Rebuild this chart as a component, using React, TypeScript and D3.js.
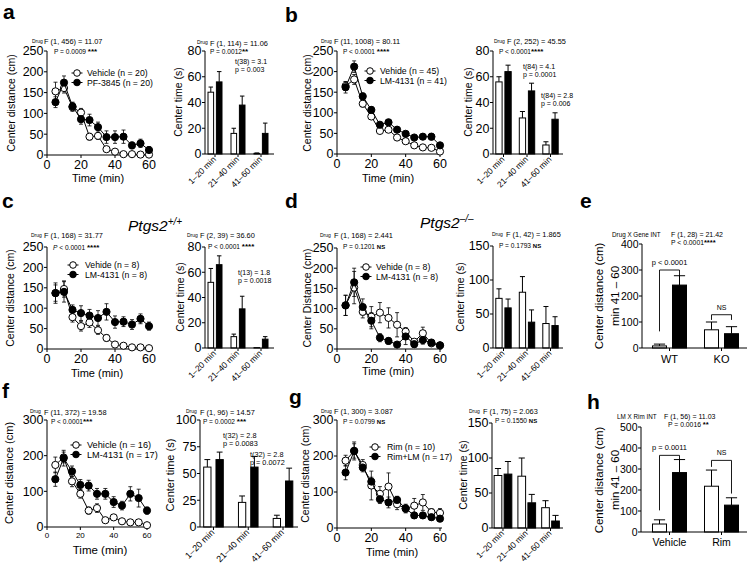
import React from 'react';
import * as d3 from 'd3';

const FONT = "'Liberation Sans', Arial, Helvetica, sans-serif";

const timePoints = [5, 10, 15, 20, 25, 30, 35, 40, 45, 50, 55, 60];
const timeTicks = [0, 20, 40, 60];
const binLabels = ['1–20 min', '21–40 min', '41–60 min'];

const yTicks250 = [0, 50, 100, 150, 200, 250];
const yTicks80 = [0, 20, 40, 60, 80];
const yTicks150 = [0, 50, 100, 150];
const yTicks300 = [0, 100, 200, 300];
const yTicks100 = [0, 25, 50, 75, 100];
const yTicks400 = [0, 100, 200, 300, 400];
const yTicks500 = [0, 100, 200, 300, 400, 500];

// panel a
const aVehicle = [153, 161, 115, 102, 44, 46, 14, 8, 2, 2, 1, 1];
const aVehicleErr = [22, 12, 10, 10, 8, 8, 5, 4, 2, 2, 2, 2];
const aDrug = [127, 174, 117, 86, 84, 67, 43, 43, 44, 23, 28, 12];
const aDrugErr = [13, 16, 10, 12, 14, 12, 15, 15, 16, 8, 10, 8];
const aBarVehicle = [48, 16, 0.5];
const aBarVehicleErr = [4, 4, 0.3];
const aBarDrug = [56, 38, 16];
const aBarDrugErr = [8, 7, 8];

// panel b
const bVehicle = [165, 181, 122, 91, 56, 59, 40, 31, 21, 16, 15, 6];
const bVehicleErr = [10, 12, 8, 6, 5, 5, 4, 3, 3, 3, 3, 2];
const bDrug = [162, 212, 140, 107, 71, 77, 59, 49, 40, 42, 42, 21];
const bDrugErr = [14, 14, 8, 8, 6, 6, 6, 5, 5, 6, 8, 5];
const bBarVehicle = [56, 28, 7];
const bBarVehicleErr = [4, 5, 2.5];
const bBarDrug = [64, 49, 27];
const bBarDrugErr = [5, 6, 5];

// panel c
const cVehicle = [137, 147, 78, 56, 65, 46, 27, 11, 8, 4, 4, 2];
const cVehicleErr = [20, 20, 12, 12, 12, 10, 8, 4, 3, 2, 2, 2];
const cDrug = [137, 140, 96, 88, 82, 76, 91, 66, 67, 60, 74, 56];
const cDrugErr = [25, 25, 12, 18, 15, 18, 20, 15, 12, 12, 12, 10];
const cBarVehicle = [52, 9, 0.3];
const cBarVehicleErr = [11, 2, 0];
const cBarDrug = [66, 31, 7];
const cBarDrugErr = [7, 10, 2];

// panel d
const dVehicle = [108, 152, 92, 80, 90, 77, 60, 43, 18, 39, 14, 9];
const dVehicleErr = [25, 40, 15, 25, 25, 25, 30, 10, 5, 15, 5, 4];
const dDrug = [108, 165, 104, 70, 28, 20, 11, 31, 12, 22, 16, 9];
const dDrugErr = [25, 35, 20, 20, 10, 8, 4, 20, 8, 10, 6, 4];
const dBarVehicle = [73, 82, 36];
const dBarVehicleErr = [14, 23, 25];
const dBarDrug = [59, 38, 33];
const dBarDrugErr = [13, 18, 13];

// panel e
const eGroups = ['WT', 'KO'];
const eVehicle = [8, 70];
const eVehicleErr = [7, 30];
const eDrug = [242, 55];
const eDrugErr = [36, 27];
const eBracketTop = [300, 128];
const eBracketLeftEnd = [64, 108];
const eBracketRightEnd = [268, 108];
const eBracketText = ['p < 0.0001', 'NS'];

// panel f
const fVehicle = [174, 195, 128, 93, 46, 53, 19, 27, 16, 13, 13, 5];
const fVehicleErr = [22, 15, 15, 12, 10, 12, 6, 8, 5, 4, 4, 3];
const fDrug = [134, 193, 156, 118, 116, 93, 93, 70, 60, 93, 81, 46];
const fDrugErr = [20, 22, 15, 15, 15, 15, 15, 15, 12, 20, 25, 10];
const fBarVehicle = [56, 23, 8];
const fBarVehicleErr = [7, 6, 3];
const fBarDrug = [63, 56, 43];
const fBarDrugErr = [7, 10, 12];

// panel g
const gVehicle = [187, 214, 175, 118, 95, 115, 66, 54, 62, 71, 44, 42];
const gVehicleErr = [15, 25, 15, 40, 20, 38, 15, 10, 20, 22, 10, 12];
const gDrug = [154, 214, 168, 129, 80, 71, 78, 54, 35, 35, 30, 26];
const gDrugErr = [20, 20, 12, 12, 12, 15, 10, 12, 8, 8, 8, 8];
const gBarVehicle = [75, 74, 29];
const gBarVehicleErr = [10, 26, 10];
const gBarDrug = [77, 36, 10];
const gBarDrugErr = [18, 12, 8];

// panel h
const hGroups = ['Vehicle', 'Rim'];
const hVehicle = [38, 218];
const hVehicleErr = [20, 77];
const hDrug = [283, 128];
const hDrugErr = [62, 35];
const hBracketTop = [365, 341];
const hBracketLeftEnd = [103, 310];
const hBracketRightEnd = [345, 183];
const hBracketText = ['p = 0.0011', 'NS'];

const K = '#000';

function YAxis({ x, y, ticks, size }: any) {
  const r = y.range();
  return (
    <g>
      <line x1={x} x2={x} y1={r[0]} y2={r[1]} stroke={K} strokeWidth={1} />
      {ticks.map((t: number) => (
        <g key={t}>
          <line x1={x - 3} x2={x} y1={y(t)} y2={y(t)} stroke={K} strokeWidth={1} />
          <text x={x - 3.5} y={y(t)} dy="0.35em" textAnchor="end" fontSize={size}>{t}</text>
        </g>
      ))}
    </g>
  );
}

function LinePanel({ left, right, top, bottom, yMax, yTicks, xTickSize = 12.5, yTickSize = 12.5, veh, vehErr, drug, drugErr }: any) {
  const x = d3.scaleLinear().domain([0, 60]).range([left, right]);
  const y = d3.scaleLinear().domain([0, yMax]).range([bottom, top]);
  const line = d3.line<number>().x((_, i) => x(timePoints[i])).y((d) => y(d));
  const series = [
    { vals: veh, err: vehErr, fill: '#fff', key: 'veh' },
    { vals: drug, err: drugErr, fill: '#000', key: 'drug' },
  ];
  return (
    <g>
      <YAxis x={left} y={y} ticks={yTicks} size={yTickSize} />
      <line x1={left} x2={x(60) + 2} y1={bottom} y2={bottom} stroke={K} strokeWidth={1} />
      {timeTicks.map((t) => (
        <g key={t}>
          <line x1={x(t)} x2={x(t)} y1={bottom} y2={bottom + 3} stroke={K} strokeWidth={1} />
          <text x={x(t)} y={bottom + (xTickSize > 10 ? 13.5 : 10.5)} textAnchor="middle" fontSize={xTickSize}>{t}</text>
        </g>
      ))}
      {series.map((s) => (
        <g key={s.key}>
          {s.vals.map((v: number, i: number) => {
            const cx = x(timePoints[i]);
            const hi = y(v + s.err[i]);
            const lo = y(Math.max(0, v - s.err[i]));
            return (
              <g key={i}>
                <line x1={cx} x2={cx} y1={hi} y2={lo} stroke={K} strokeWidth={0.8} />
                <line x1={cx - 2} x2={cx + 2} y1={hi} y2={hi} stroke={K} strokeWidth={0.8} />
                <line x1={cx - 2} x2={cx + 2} y1={lo} y2={lo} stroke={K} strokeWidth={0.8} />
              </g>
            );
          })}
        </g>
      ))}
      {series.map((s) => (
        <g key={s.key + 'l'}>
          <path d={line(s.vals) || ''} fill="none" stroke={K} strokeWidth={1} />
          {s.vals.map((v: number, i: number) => (
            <circle key={i} cx={x(timePoints[i])} cy={y(v)} r={3.6} fill={s.fill} stroke={K} strokeWidth={1} />
          ))}
        </g>
      ))}
    </g>
  );
}

function BarPanel({ left, top, bottom, yMax, yTicks, cats, bandStart, bandEnd, axisEnd, barW, gap, veh, vehErr, drug, drugErr, tickSize = 12.5, catSize = 8.5, rotate = true, catY = 0 }: any) {
  const x = d3.scaleBand<string>().domain(cats).range([bandStart, bandEnd]);
  const y = d3.scaleLinear().domain([0, yMax]).range([bottom, top]);
  const cap = barW * 0.4;
  const bars = [
    { vals: veh, err: vehErr, fill: '#fff', off: -gap / 2 - barW, key: 'v' },
    { vals: drug, err: drugErr, fill: '#000', off: gap / 2, key: 'd' },
  ];
  return (
    <g>
      <YAxis x={left} y={y} ticks={yTicks} size={tickSize} />
      {bars.map((b) => (
        <g key={b.key}>
          {cats.map((c: string, i: number) => {
            const cx = (x(c) as number) + x.bandwidth() / 2;
            const bx = cx + b.off;
            const mid = bx + barW / 2;
            const v = b.vals[i];
            const e = b.err[i];
            return (
              <g key={c}>
                {e > 0 && (
                  <g>
                    <line x1={mid} x2={mid} y1={y(v)} y2={y(v + e)} stroke={K} strokeWidth={1} />
                    <line x1={mid - cap} x2={mid + cap} y1={y(v + e)} y2={y(v + e)} stroke={K} strokeWidth={1} />
                  </g>
                )}
                <rect x={bx} y={y(v)} width={barW} height={bottom - y(v)} fill={b.fill} stroke={K} strokeWidth={1} />
              </g>
            );
          })}
        </g>
      ))}
      <line x1={left} x2={axisEnd} y1={bottom} y2={bottom} stroke={K} strokeWidth={1} />
      {cats.map((c: string) => {
        const cx = (x(c) as number) + x.bandwidth() / 2;
        return (
          <g key={c}>
            <line x1={cx} x2={cx} y1={bottom} y2={bottom + 3} stroke={K} strokeWidth={1} />
            {rotate ? (
              <text transform={`translate(${cx + 1.5},${bottom + 6}) rotate(-45)`} textAnchor="end" fontSize={catSize}>{c}</text>
            ) : (
              <text x={cx} y={catY} textAnchor="middle" fontSize={catSize}>{c}</text>
            )}
          </g>
        );
      })}
    </g>
  );
}

function Bracket({ bottom, top, yMax, cats, bandStart, bandEnd, barW, gap, tops, lefts, rights, labels, labelSize }: any) {
  const x = d3.scaleBand<string>().domain(cats).range([bandStart, bandEnd]);
  const y = d3.scaleLinear().domain([0, yMax]).range([bottom, top]);
  return (
    <g>
      {cats.map((c: string, i: number) => {
        const cx = (x(c) as number) + x.bandwidth() / 2;
        const lx = cx - gap / 2 - barW / 2;
        const rx = cx + gap / 2 + barW / 2;
        const ty = y(tops[i]);
        return (
          <g key={c}>
            <path d={`M${lx},${y(lefts[i])}V${ty}H${rx}V${y(rights[i])}`} fill="none" stroke={K} strokeWidth={0.9} />
            <text x={cx} y={ty - 5} textAnchor="middle" fontSize={labels[i] === 'NS' ? 7 : labelSize}>{labels[i]}</text>
          </g>
        );
      })}
    </g>
  );
}

function Legend({ x, y, tx, gapY = 9.5, size = 8.7, labels }: any) {
  return (
    <g>
      {labels.map((l: string, i: number) => (
        <g key={l}>
          <line x1={x - 5.5} x2={x + 5.5} y1={y + i * gapY} y2={y + i * gapY} stroke={K} strokeWidth={1} />
          <circle cx={x} cy={y + i * gapY} r={3.3} fill={i === 0 ? '#fff' : '#000'} stroke={K} strokeWidth={1} />
          <text x={tx} y={y + i * gapY} dy="0.35em" fontSize={size}>{l}</text>
        </g>
      ))}
    </g>
  );
}

function Stat({ dx, fx, y1, px, y2, f, p, sig, italicP = false, fSize = 7.4, pSize = 6.6 }: any) {
  const ns = sig === 'NS';
  return (
    <g>
      <text x={dx} y={y1 - 1.5} fontSize={5}>Drug</text>
      <text x={fx} y={y1} fontSize={fSize}>{f}</text>
      <text x={px} y={y2} fontSize={pSize}>
        {italicP ? <tspan fontStyle="italic">P</tspan> : 'P'}
        {p}
        <tspan fontWeight="bold" fontSize={ns ? 6 : 8}>{sig}</tspan>
      </text>
    </g>
  );
}

function RotLabel({ x, y, size = 10.5, children }: any) {
  return (
    <text transform={`translate(${x},${y}) rotate(-90)`} textAnchor="middle" dy="0.35em" fontSize={size}>{children}</text>
  );
}

function Note({ x, y, l1, l2, size = 7 }: any) {
  return (
    <g>
      <text x={x} y={y} fontSize={size} fill="#000">{l1}</text>
      <text x={x} y={y + 7.5} fontSize={size} fill="#000">{l2}</text>
    </g>
  );
}

export default function App() {
  const letter = { fontSize: 21, fontWeight: 'bold' as const };
  return (
    <svg width={750} height={568} viewBox="0 0 750 568" style={{ position: 'absolute', left: 0, top: 0, background: '#fff' }} fontFamily={FONT} fill="#000">
      <rect x={0} y={0} width={750} height={568} fill="#fff" />
      {/* panel letters */}
      <text x={3} y={19} {...letter}>a</text>
      <text x={285} y={22} {...letter}>b</text>
      <text x={2} y={208} {...letter}>c</text>
      <text x={285} y={208} {...letter}>d</text>
      <text x={580} y={208} {...letter}>e</text>
      <text x={2} y={398} {...letter}>f</text>
      <text x={289} y={404} {...letter}>g</text>
      <text x={587} y={409} {...letter}>h</text>

      {/* ===== a ===== */}
      <LinePanel left={47} right={149} top={51} bottom={155} yMax={250} yTicks={yTicks250}
        veh={aVehicle} vehErr={aVehicleErr} drug={aDrug} drugErr={aDrugErr} />
      <RotLabel x={11} y={103}>Center distance (cm)</RotLabel>
      <text x={98} y={182} textAnchor="middle" fontSize={11}>Time (min)</text>
      <Legend x={77} y={73} tx={87} labels={['Vehicle (n = 20)', 'PF-3845 (n = 20)']} />
      <Stat dx={32} fx={44} y1={44} px={54} y2={54} f="F (1, 456) = 11.07" p=" = 0.0009 " sig="***" />

      <BarPanel left={205} top={51} bottom={154} yMax={80} yTicks={yTicks80} cats={binLabels}
        bandStart={203.5} bandEnd={272.5} axisEnd={274} barW={5.6} gap={2.8}
        veh={aBarVehicle} vehErr={aBarVehicleErr} drug={aBarDrug} drugErr={aBarDrugErr} />
      <RotLabel x={178} y={102}>Center time (s)</RotLabel>
      <Stat dx={197} fx={210} y1={45.5} px={210} y2={54} f="F (1, 114) = 11.06" p=" = 0.0012" sig="**" />
      <Note x={235} y={64} l1="t(38) = 3.1" l2="p = 0.003" />

      {/* ===== b ===== */}
      <LinePanel left={337} right={440} top={51} bottom={154} yMax={250} yTicks={yTicks250}
        veh={bVehicle} vehErr={bVehicleErr} drug={bDrug} drugErr={bDrugErr} />
      <RotLabel x={307} y={103}>Center distance (cm)</RotLabel>
      <text x={388} y={182} textAnchor="middle" fontSize={11}>Time (min)</text>
      <Legend x={370} y={71} tx={380} labels={['Vehide (n = 45)', 'LM-4131 (n = 41)']} />
      <Stat dx={321} fx={334} y1={44} px={343} y2={54} f="F (11, 1008) = 80.11" p=" < 0.0001 " sig="****" />

      <BarPanel left={493} top={51} bottom={154} yMax={80} yTicks={yTicks80} cats={binLabels}
        bandStart={491.75} bandEnd={562.25} axisEnd={563} barW={6.3} gap={2.8}
        veh={bBarVehicle} vehErr={bBarVehicleErr} drug={bBarDrug} drugErr={bBarDrugErr} />
      <RotLabel x={468} y={102}>Center time (s)</RotLabel>
      <Stat dx={494} fx={507} y1={44} px={499} y2={54} f="F (2, 252) = 45.55" p=" < 0.0001" sig="****" />
      <Note x={523} y={69} l1="t(84) = 4.1" l2="p = 0.0001" />
      <Note x={541} y={98} l1="t(84) = 2.8" l2="p = 0.006" />

      {/* ===== c ===== */}
      <text x={128} y={231} fontSize={15.5} fontStyle="italic">Ptgs2<tspan dy={-6} fontSize={10}>+/+</tspan></text>
      <LinePanel left={47} right={149} top={247} bottom={349} yMax={250} yTicks={yTicks250}
        veh={cVehicle} vehErr={cVehicleErr} drug={cDrug} drugErr={cDrugErr} />
      <RotLabel x={10} y={298}>Center distance (cm)</RotLabel>
      <text x={97} y={377} textAnchor="middle" fontSize={11}>Time (min)</text>
      <Legend x={73} y={265} tx={85} labels={['Vehide (n = 8)', 'LM-4131 (n = 8)']} />
      <Stat dx={31} fx={44} y1={238} px={53} y2={249.5} f="F (1, 168) = 31.77" p=" < 0.0001 " sig="****" italicP />

      <BarPanel left={205} top={247} bottom={348} yMax={80} yTicks={yTicks80} cats={binLabels}
        bandStart={203.5} bandEnd={272.5} axisEnd={274} barW={5.6} gap={2.8}
        veh={cBarVehicle} vehErr={cBarVehicleErr} drug={cBarDrug} drugErr={cBarDrugErr} />
      <RotLabel x={180} y={297}>Center time (s)</RotLabel>
      <Stat dx={187} fx={200} y1={238} px={208} y2={249} f="F (2, 39) = 36.60" p=" < 0.0001 " sig="****" />
      <Note x={238} y={275} l1="t(13) = 1.8" l2="p = 0.0018" />

      {/* ===== d ===== */}
      <text x={420} y={228} fontSize={15.5} fontStyle="italic">Ptgs2<tspan dy={-6} fontSize={10}>–/–</tspan></text>
      <LinePanel left={337} right={440} top={248} bottom={349} yMax={250} yTicks={yTicks250}
        veh={dVehicle} vehErr={dVehicleErr} drug={dDrug} drugErr={dDrugErr} />
      <RotLabel x={307} y={298}>Center Distance (cm)</RotLabel>
      <text x={388} y={375} textAnchor="middle" fontSize={11}>Time (min)</text>
      <Legend x={366} y={267} tx={376} labels={['Vehide (n = 8)', 'LM-4131 (n = 8)']} />
      <Stat dx={320} fx={334} y1={238} px={343} y2={249} f="F (1, 168) = 2.441" p=" = 0.1201 " sig="NS" />

      <BarPanel left={493} top={246} bottom={348} yMax={150} yTicks={yTicks150} cats={binLabels}
        bandStart={491.75} bandEnd={562.25} axisEnd={563} barW={6.3} gap={2.8}
        veh={dBarVehicle} vehErr={dBarVehicleErr} drug={dBarDrug} drugErr={dBarDrugErr} />
      <RotLabel x={460} y={297}>Center time (s)</RotLabel>
      <Stat dx={492} fx={506} y1={237} px={499} y2={248} f="F (1, 42) = 1.865" p=" = 0.1793 " sig="NS" />

      {/* ===== e ===== */}
      <BarPanel left={642} top={244} bottom={348} yMax={400} yTicks={yTicks400} cats={eGroups}
        bandStart={643.5} bandEnd={747.5} axisEnd={747} barW={14} gap={6} tickSize={10.5}
        catSize={11} rotate={false} catY={363}
        veh={eVehicle} vehErr={eVehicleErr} drug={eDrug} drugErr={eDrugErr} />
      <Bracket top={244} bottom={348} yMax={400} cats={eGroups} bandStart={643.5} bandEnd={747.5}
        barW={14} gap={6} tops={eBracketTop} lefts={eBracketLeftEnd} rights={eBracketRightEnd} labels={eBracketText} labelSize={7.5} />
      <RotLabel x={599} y={296} size={11.5}>Center distance (cm)</RotLabel>
      <RotLabel x={615} y={296} size={11.5}>min 41 – 60</RotLabel>
      <text x={612} y={236.5} fontSize={6.3}>Drug X Gene INT</text>
      <text x={671} y={236.5} fontSize={7}>F (1, 28) = 21.42</text>
      <text x={671} y={244.5} fontSize={6.8}>P &lt; 0.0001<tspan fontWeight="bold" fontSize={7.5}>****</tspan></text>

      {/* ===== f ===== */}
      <LinePanel left={47} right={147} top={420} bottom={527} yMax={300} yTicks={yTicks300} xTickSize={8}
        veh={fVehicle} vehErr={fVehicleErr} drug={fDrug} drugErr={fDrugErr} />
      <RotLabel x={9} y={473} size={11}>Center distance (cm)</RotLabel>
      <text x={100} y={554} textAnchor="middle" fontSize={11.5}>Time (min)</text>
      <Legend x={76} y={445} tx={87} gapY={9.5} size={9.2} labels={['Vehicle (n = 16)', 'LM-4131 (n = 17)']} />
      <Stat dx={30} fx={44} y1={414.5} px={51} y2={423.5} f="F (11, 372) = 19.58" p=" < 0.0001" sig="***" />

      <BarPanel left={200} top={420} bottom={527} yMax={100} yTicks={yTicks100} cats={binLabels}
        bandStart={196.1} bandEnd={300.4} axisEnd={298} barW={7.3} gap={5} catSize={9}
        veh={fBarVehicle} vehErr={fBarVehicleErr} drug={fBarDrug} drugErr={fBarDrugErr} />
      <RotLabel x={170} y={475} size={11}>Center time (s)</RotLabel>
      <Stat dx={186} fx={200} y1={414.5} px={203} y2={423.5} f="F (1, 96) = 14.57" p=" = 0.0002 " sig="***" />
      <Note x={223} y={438} l1="t(32) = 2.8" l2="p = 0.0083" size={7.3} />
      <Note x={250} y={457} l1="t(32) = 2.8" l2="p = 0.0072" size={7.3} />

      {/* ===== g ===== */}
      <LinePanel left={337} right={440} top={420} bottom={528} yMax={300} yTicks={yTicks300}
        veh={gVehicle} vehErr={gVehicleErr} drug={gDrug} drugErr={gDrugErr} />
      <RotLabel x={305} y={474}>Center distance (cm)</RotLabel>
      <text x={392} y={556} textAnchor="middle" fontSize={11}>Time (min)</text>
      <Legend x={375} y={447} tx={387} labels={['Rim (n = 10)', 'Rim+LM (n = 17)']} />
      <Stat dx={321} fx={334} y1={414} px={343} y2={424} f="F (1, 300) = 3.087" p=" = 0.0799 " sig="NS" />

      <BarPanel left={492} top={423} bottom={528} yMax={150} yTicks={yTicks150} cats={binLabels}
        bandStart={491.1} bandEnd={562.4} axisEnd={563} barW={7.7} gap={2.3}
        veh={gBarVehicle} vehErr={gBarVehicleErr} drug={gBarDrug} drugErr={gBarDrugErr} />
      <RotLabel x={463} y={475}>Center time (s)</RotLabel>
      <Stat dx={469} fx={483} y1={414} px={495} y2={423} f="F (1, 75) = 2.063" p=" = 0.1550 " sig="NS" />

      {/* ===== h ===== */}
      <BarPanel left={641} top={427} bottom={532} yMax={500} yTicks={yTicks500} cats={hGroups}
        bandStart={643.5} bandEnd={747.5} axisEnd={747} barW={14} gap={6} tickSize={10.5}
        catSize={10.5} rotate={false} catY={546}
        veh={hVehicle} vehErr={hVehicleErr} drug={hDrug} drugErr={hDrugErr} />
      <Bracket top={427} bottom={532} yMax={500} cats={hGroups} bandStart={643.5} bandEnd={747.5}
        barW={14} gap={6} tops={hBracketTop} lefts={hBracketLeftEnd} rights={hBracketRightEnd} labels={hBracketText} labelSize={7.5} />
      <RotLabel x={599} y={480} size={11.5}>Center distance (cm)</RotLabel>
      <RotLabel x={615} y={480} size={11.5}>min 41 – 60</RotLabel>
      <text x={617} y={419} fontSize={6.3}>LM X Rim INT</text>
      <text x={664} y={419} fontSize={7}>F (1, 56) = 11.03</text>
      <text x={668} y={427} fontSize={6.8}>P = 0.0016 <tspan fontWeight="bold" fontSize={7.5}>**</tspan></text>
    </svg>
  );
}
